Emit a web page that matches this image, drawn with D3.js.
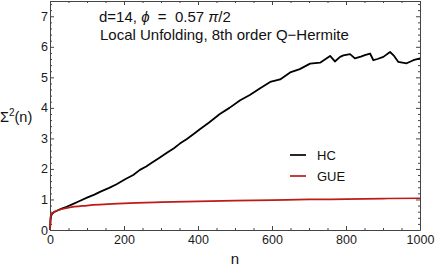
<!DOCTYPE html>
<html>
<head>
<meta charset="utf-8">
<script src="https://cdn.jsdelivr.net/npm/d3@7"></script>
<style>
  body { margin: 0; background: #fff; }
  svg { font-family: "Liberation Sans", Arial, sans-serif; }
</style>
</head>
<body>
<div id="container"></div>
<script>
/* CONSTANTS AND GLOBALS */
const width = 436;
const height = 268;
const margin = { top: 1, bottom: 38, left: 50, right: 16 };

/* DATA */
const hcN = [0, 2, 5, 10, 20, 30, 45, 60, 80, 100, 120, 135, 160, 180, 203, 225, 243, 260, 275, 295, 315, 335, 351, 370, 390, 405, 430, 459, 485, 514, 540, 568, 595, 622, 649, 675, 703, 730, 757, 770, 784, 793, 811, 824, 840, 851, 865, 874, 885, 901, 919, 930, 941, 964, 982, 1000];
const hcV = [0, 0.42, 0.52, 0.58, 0.64, 0.69, 0.76, 0.84, 0.95, 1.06, 1.16, 1.25, 1.38, 1.5, 1.66, 1.8, 1.97, 2.08, 2.2, 2.36, 2.52, 2.68, 2.83, 2.98, 3.16, 3.3, 3.52, 3.8, 4.0, 4.25, 4.42, 4.64, 4.85, 4.93, 5.16, 5.27, 5.45, 5.48, 5.7, 5.52, 5.67, 5.72, 5.76, 5.62, 5.68, 5.73, 5.78, 5.56, 5.6, 5.67, 5.83, 5.7, 5.51, 5.46, 5.56, 5.62];

const gueN = [0, 1, 2, 5, 10, 20, 50, 100, 200, 300, 400, 500, 600, 700, 800, 900, 1000];
const gueV = [0, 0.35, 0.45, 0.53, 0.58, 0.64, 0.73, 0.8, 0.87, 0.91, 0.94, 0.96, 0.98, 1.0, 1.01, 1.03, 1.04];

const xTicks = [0, 200, 400, 600, 800, 1000];
const yTicks = [0, 1, 2, 3, 4, 5, 6, 7];

const hc = hcN.map((n, i) => ({ n: n, v: hcV[i] }));
const gue = gueN.map((n, i) => ({ n: n, v: gueV[i] }));

/* SCALES */
const xScale = d3.scaleLinear()
  .domain([0, 1000])
  .range([margin.left, width - margin.right]);

const yScale = d3.scaleLinear()
  .domain([0, 7.5])
  .range([height - margin.bottom, margin.top]);

/* HTML ELEMENTS */
const svg = d3.select("#container")
  .append("svg")
  .attr("width", width)
  .attr("height", height);

const frameColor = "#444";

// frame ticks, mathematica style (inward, mirrored)
const xMinor = d3.range(0, 1001, 50).filter(d => d % 200 !== 0);
const yMinor = d3.range(0, 7.51, 0.2).map(d => +d.toFixed(1)).filter(d => Math.abs(d - Math.round(d)) > 1e-6);

const xBottom = svg.append("g")
  .attr("transform", `translate(0,${height - margin.bottom})`)
  .call(d3.axisBottom(xScale).tickValues(xTicks.concat(xMinor)).tickSize(-4).tickSizeOuter(0).tickPadding(5)
    .tickFormat(d => xTicks.includes(d) ? d : ""));
const xTop = svg.append("g")
  .attr("transform", `translate(0,${margin.top})`)
  .call(d3.axisTop(xScale).tickValues(xTicks.concat(xMinor)).tickSize(-4).tickSizeOuter(0).tickFormat(""));
const yLeft = svg.append("g")
  .attr("transform", `translate(${margin.left},0)`)
  .call(d3.axisLeft(yScale).tickValues(yTicks.concat(yMinor)).tickSize(-4).tickSizeOuter(0).tickPadding(2)
    .tickFormat(d => yTicks.includes(d) ? d : ""));
const yRight = svg.append("g")
  .attr("transform", `translate(${width - margin.right},0)`)
  .call(d3.axisRight(yScale).tickValues(yTicks.concat(yMinor)).tickSize(-4).tickSizeOuter(0).tickFormat(""));

[xBottom, xTop, yLeft, yRight].forEach(g => {
  g.select(".domain").attr("stroke", frameColor).attr("stroke-width", 1);
  g.selectAll(".tick line").attr("stroke", frameColor);
  g.selectAll("text").attr("font-size", 12.5).attr("fill", "#1a1a1a")
    .style("font-family", "Liberation Sans, Arial, sans-serif");
});
// minor ticks shorter
xBottom.selectAll(".tick line").filter(d => !xTicks.includes(d)).attr("y2", -2);
xTop.selectAll(".tick line").filter(d => !xTicks.includes(d)).attr("y2", 2);
yLeft.selectAll(".tick line").filter(d => !yTicks.includes(d)).attr("x2", 2);
yRight.selectAll(".tick line").filter(d => !yTicks.includes(d)).attr("x2", -2);

/* LINES */
const line = d3.line()
  .x(d => xScale(d.n))
  .y(d => yScale(d.v));

svg.append("path")
  .datum(hc)
  .attr("fill", "none")
  .attr("stroke", "#000")
  .attr("stroke-width", 1.8)
  .attr("stroke-linejoin", "round")
  .attr("d", line);

svg.append("path")
  .datum(gue)
  .attr("fill", "none")
  .attr("stroke", "#bf1a1a")
  .attr("stroke-width", 1.7)
  .attr("d", line.curve(d3.curveMonotoneX));

/* TEXT */
const ann = svg.append("text")
  .attr("x", 99)
  .attr("y", 22)
  .attr("font-size", 15)
  .attr("fill", "#111")
  .attr("xml:space", "preserve")
  .style("white-space", "pre");
ann.append("tspan").text("d=14, ");
ann.append("tspan").attr("font-style", "italic").text("ϕ");
ann.append("tspan").text("  =  0.57 ");
ann.append("tspan").attr("font-style", "italic").text("π");
ann.append("tspan").text("/2");

svg.append("text")
  .attr("x", 100)
  .attr("y", 40)
  .attr("font-size", 15)
  .attr("fill", "#111")
  .text("Local Unfolding, 8th order Q\u2212Hermite");

const yl = svg.append("text")
  .attr("x", 0)
  .attr("y", 122)
  .attr("font-size", 14.5)
  .attr("fill", "#111");
yl.append("tspan").text("Σ");
yl.append("tspan").attr("font-size", 10).attr("dy", -6).text("2");
yl.append("tspan").attr("dy", 6).text("(n)");

svg.append("text")
  .attr("x", xScale(500))
  .attr("y", 264)
  .attr("text-anchor", "middle")
  .attr("font-size", 15)
  .attr("fill", "#111")
  .text("n");

/* LEGEND */
const legend = [{ name: "HC", color: "#000" }, { name: "GUE", color: "#bf1a1a" }];
legend.forEach((d, i) => {
  const y = 155 + i * 21;
  svg.append("line")
    .attr("x1", 290).attr("x2", 306)
    .attr("y1", y).attr("y2", y)
    .attr("stroke", d.color)
    .attr("stroke-width", 1.7);
  svg.append("text")
    .attr("x", 317)
    .attr("y", y + 4.5)
    .attr("font-size", 13)
    .attr("fill", "#111")
    .text(d.name);
});
</script>
</body>
</html>
